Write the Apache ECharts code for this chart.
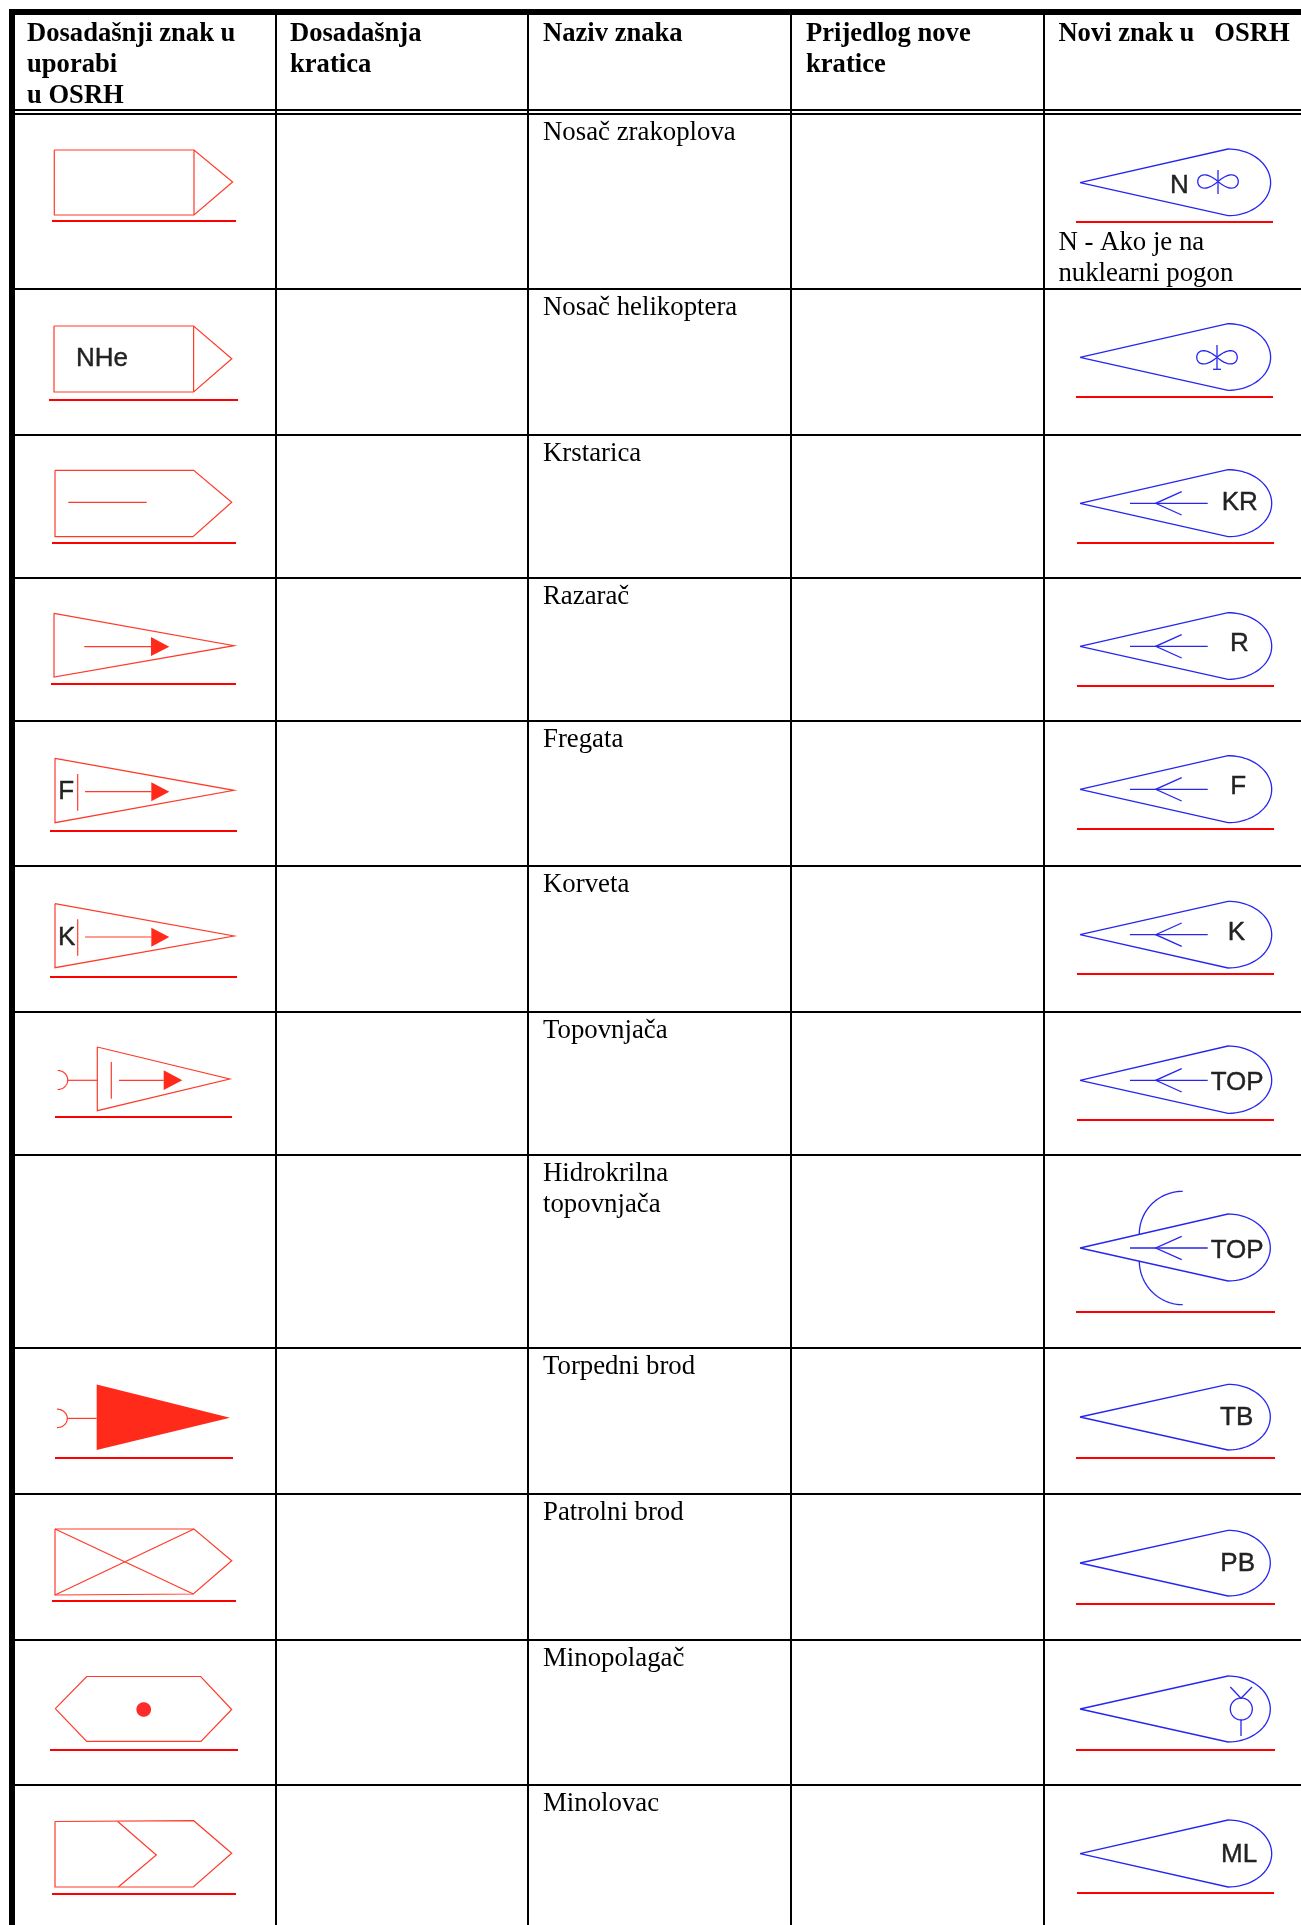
<!DOCTYPE html>
<html>
<head>
<meta charset="utf-8">
<title>Znakovi OSRH</title>
<script src="https://cdn.jsdelivr.net/npm/echarts@6/dist/echarts.min.js"></script>
<style>
  html, body { margin: 0; padding: 0; background: #fff; }
  #chart { width: 1301px; height: 1925px; }
</style>
</head>
<body>
<div id="chart"></div>
<script>
// all geometry below is in axis units of one hidden x/y grid (0-1301, 0-1925)
const columnLines = [276, 528, 791, 1044];
const rowLines = [110, 114, 289, 435, 578, 721, 866, 1012, 1155, 1348, 1494, 1640, 1785];

const headerTexts = [
  ["Dosadašnji znak u", "uporabi", "u OSRH"],
  ["Dosadašnja", "kratica"],
  ["Naziv znaka"],
  ["Prijedlog nove", "kratice"],
  ["Novi znak u   OSRH"],
];
const headerX = [27, 290, 543, 806, 1058.4];
const headerBaselines = [41, 72, 102.6];

const signNames = [
  ["Nosač zrakoplova"],
  ["Nosač helikoptera"],
  ["Krstarica"],
  ["Razarač"],
  ["Fregata"],
  ["Korveta"],
  ["Topovnjača"],
  ["Hidrokrilna", "topovnjača"],
  ["Torpedni brod"],
  ["Patrolni brod"],
  ["Minopolagač"],
  ["Minolovac"],
];
const noteTexts = ["N - Ako je na", "nuklearni pogon"];
const noteBaselines = [249.5, 280.5];

// old (red) signs
const oldOutlines = [
  [[54.3, 150], [194, 150], [232.6, 182], [194, 215], [54.3, 215], [54.3, 150]],
  [[54, 326], [193.6, 326], [231.8, 358.7], [193.6, 392], [54, 392], [54, 326]],
  [[55, 470.3], [193.7, 470.3], [231.7, 502.3], [193, 536.7], [55, 536.7], [55, 470.3]],
  [[54, 613.3], [234, 645.7], [54, 677], [54, 613.3]],
  [[55, 758.3], [234, 790.3], [55, 822.7], [55, 758.3]],
  [[55, 903.7], [234, 936], [55, 967.7], [55, 903.7]],
  [[97.3, 1047], [229.7, 1079], [97.3, 1110.7], [97.3, 1047]],
  [[55, 1529], [194, 1529], [231.7, 1560.7], [193.3, 1594], [55, 1595], [55, 1529]],
  [[55.3, 1708.7], [86.7, 1676.5], [200.7, 1676.5], [231.7, 1709.5], [201, 1741.4], [86.7, 1741.4], [55.3, 1708.7]],
  [[55, 1821.5], [193.7, 1820.7], [231.7, 1853.3], [193.3, 1887], [55, 1887], [55, 1821.5]],
];
const oldInnerLines = [
  [[194, 150], [194, 215]],
  [[193.6, 326], [193.6, 392]],
  [[68.3, 502.3], [146.7, 502.3]],
  [[84.3, 646.7], [151, 646.7]],
  [[77.7, 774], [77.7, 810.7]],
  [[85, 791.7], [151.3, 791.7]],
  [[77.7, 919.3], [77.7, 955.7]],
  [[85, 937], [151.3, 937]],
  [[67.7, 1080.3], [97.3, 1080.3]],
  [[111.3, 1062], [111.3, 1098.7]],
  [[119, 1080.3], [163.7, 1080.3]],
  [[67.3, 1418.4], [96.7, 1418.4]],
  [[55, 1529], [193.3, 1594]],
  [[55, 1595], [194, 1529]],
  [[117.7, 1821.5], [156.3, 1855], [118.3, 1887]],
];
const oldFilled = [
  [[151, 637], [169.3, 646.7], [151, 656]],
  [[151.3, 782.3], [169.3, 791.7], [151.3, 801.3]],
  [[151.3, 927.7], [169.3, 937], [151.3, 946.7]],
  [[163.7, 1070.3], [182.3, 1080.3], [163.7, 1090]],
  [[96.7, 1384.6], [230, 1417.7], [96.7, 1450]],
];
// [cx, cy, rx, ry, startAngle, endAngle] in degrees
const oldArcs = [
  [57.7, 1080, 10, 9.5, -90, 90],
  [57, 1418.4, 10.3, 9.2, -90, 90],
];
const oldDots = [[143.7, 1709.5, 7.3, 7.3, 0, 360]];
const oldUnderlines = [
  [[52, 221], [236, 221]],
  [[49, 400], [238, 400]],
  [[52, 543], [236, 543]],
  [[51, 684], [236, 684]],
  [[50, 831], [237, 831]],
  [[50, 977], [237, 977]],
  [[55, 1117], [232, 1117]],
  [[55, 1458], [233, 1458]],
  [[52, 1601], [236, 1601]],
  [[50, 1750], [238, 1750]],
  [[52, 1894], [236, 1894]],
];
const oldCodes = ["NHe", "F", "K"];
const oldCodeX = [75.9, 58.3, 58];
const oldCodeBaselines = [366.7, 799.3, 945];

// new (blue) teardrop signs, one per row
const tearTipY = [182.7, 357.3, 503.3, 646.3, 789.3, 934.7, 1080.3, 1248, 1417, 1563, 1709, 1853.7];
const tearTopY = [149, 323.7, 469.7, 612.7, 755.7, 901.3, 1046, 1214, 1384.3, 1530.3, 1676, 1820];
const tearBottomY = [215.7, 390.3, 536.7, 679.3, 822.7, 968, 1113.3, 1281, 1450, 1596, 1742, 1887];
const tearRightX = [1270.6, 1270.6, 1271.7, 1271.7, 1271.7, 1271.7, 1271.7, 1270.3, 1270.3, 1270.3, 1270.3, 1271.7];
const tearTipX = 1080;
const tearShoulderX = 1228;
const newUnderlineY = [222, 397, 543, 686, 829, 974, 1120, 1312, 1458, 1604, 1750, 1893];
const newUnderlineX1 = [1076, 1076, 1077, 1077, 1077, 1077, 1077, 1076, 1076, 1076, 1076, 1077];
const newUnderlineX2 = [1273, 1273, 1274, 1274, 1274, 1274, 1274, 1275, 1275, 1275, 1275, 1274];
const featherRows = [2, 3, 4, 5, 6, 7];
const newCodes = ["N", "KR", "R", "F", "K", "TOP", "TOP", "TB", "PB", "ML"];
const newCodeX = [1170, 1221.7, 1230, 1230.3, 1227.7, 1210.7, 1210.7, 1220, 1220.3, 1221];
const newCodeBaselines = [193, 510, 651.7, 794, 940.7, 1090.3, 1258.3, 1425.7, 1571.7, 1862];
const propellers = [[1218, 181.5, 170, 194], [1217, 357.3, 345, 369.3]];
const helicopterBar = [[1213, 369.3], [1221, 369.3]];
const foilArcs = [
  [1182.7, 1234, 43.4, 42.7, 180, 270],
  [1182.7, 1260.7, 43.4, 44, 180, 90],
];
const mineCircle = [1241.3, 1709, 11, 11, 0, 360];
const mineLines = [
  [[1241, 1720], [1241, 1736]],
  [[1230.3, 1687], [1241, 1698.3], [1252, 1687]],
];

function arcPoints(arc) {
  const pts = [];
  for (let i = 0; i <= 48; i++) {
    const a = ((arc[4] + ((arc[5] - arc[4]) * i) / 48) * Math.PI) / 180;
    pts.push([arc[0] + arc[2] * Math.cos(a), arc[1] + arc[3] * Math.sin(a)]);
  }
  return pts;
}

function teardrop(i) {
  const midY = tearTipY[i];
  const pts = [[tearTipX, midY]];
  for (let k = 0; k <= 48; k++) {
    const a = -Math.PI / 2 + (Math.PI * k) / 48;
    const ry = a < 0 ? midY - tearTopY[i] : tearBottomY[i] - midY;
    pts.push([tearShoulderX + (tearRightX[i] - tearShoulderX) * Math.cos(a), midY + ry * Math.sin(a)]);
  }
  pts.push([tearTipX, midY]);
  return pts;
}

function feather(midY) {
  return [
    [[1130, midY], [1207.7, midY]],
    [[1181.7, midY - 11.7], [1155.7, midY], [1181.7, midY + 11.7]],
  ];
}

// one loop of the propeller blade, dir is -1 (left) or 1 (right)
function bladeLoop(cx, cy, dir) {
  const pts = [];
  for (let k = 0; k <= 32; k++) {
    const t = k / 32;
    const b = 3 * (1 - t) * t;
    pts.push([cx + dir * b * 27, cy + b * 23 * (t - (1 - t))]);
  }
  return pts;
}

const bluePaths = [];
tearTipY.forEach((_, i) => bluePaths.push(teardrop(i)));
featherRows.forEach((r) => bluePaths.push(...feather(tearTipY[r])));
propellers.forEach((p) => {
  bluePaths.push(bladeLoop(p[0], p[1], -1), bladeLoop(p[0], p[1], 1));
  bluePaths.push([[p[0], p[2]], [p[0], p[3]]]);
});
bluePaths.push(helicopterBar, ...foilArcs.map(arcPoints), arcPoints(mineCircle), ...mineLines);

const newUnderlines = newUnderlineY.map((y, i) => [[newUnderlineX1[i], y], [newUnderlineX2[i], y]]);

const tableVerticals = [[[12, 12], [12, 1925]]].concat(columnLines.map((x) => [[x, 12], [x, 1925]]));
const tableHorizontals = rowLines.map((y) => [[12, y], [1301, y]]);

// text items: [string, x, baseline, bold]
const headerItems = [];
headerTexts.forEach((lines, c) => lines.forEach((t, l) => headerItems.push([t, headerX[c], headerBaselines[l], true])));
const bodyItems = [];
signNames.forEach((lines, r) =>
  lines.forEach((t, l) => bodyItems.push([t, headerX[2], rowLines[r + 1] + 25.7 + l * 31, false]))
);
noteTexts.forEach((t, l) => bodyItems.push([t, headerX[4], noteBaselines[l], false]));

const codeItems = [];
oldCodes.forEach((t, i) => codeItems.push([t, oldCodeX[i], oldCodeBaselines[i]]));
newCodes.forEach((t, i) => codeItems.push([t, newCodeX[i], newCodeBaselines[i]]));

function pathSeries(list, color, width, filled) {
  return {
    type: "custom",
    coordinateSystem: "cartesian2d",
    clip: false,
    silent: true,
    data: list.map((_, i) => [i]),
    renderItem(params, api) {
      const points = list[params.dataIndex].map((p) => api.coord(p));
      return {
        type: filled ? "polygon" : "polyline",
        shape: { points },
        style: { stroke: filled ? null : color, fill: filled ? color : null, lineWidth: width },
      };
    },
  };
}

// middleShift: distance from the baseline up to the font's middle line
function textSeries(list, family, size, color, middleShift, strokeWidth) {
  return {
    type: "custom",
    coordinateSystem: "cartesian2d",
    clip: false,
    silent: true,
    data: list.map((_, i) => [i]),
    renderItem(params, api) {
      const item = list[params.dataIndex];
      const p = api.coord([item[1], item[2]]);
      return {
        type: "text",
        style: {
          text: item[0],
          x: p[0],
          y: p[1] - middleShift,
          font: (item[3] ? "bold " : "") + size + "px " + family,
          fill: color,
          stroke: strokeWidth ? color : null,
          lineWidth: strokeWidth || 0,
          align: "left",
          verticalAlign: "middle",
        },
      };
    },
  };
}

const myChart = echarts.init(document.getElementById("chart"), null, { renderer: "canvas" });
myChart.setOption({
  animation: false,
  backgroundColor: "#fff",
  grid: { left: 0, right: 0, top: 0, bottom: 0 },
  xAxis: { type: "value", min: 0, max: 1301, show: false },
  yAxis: { type: "value", min: 0, max: 1925, inverse: true, show: false },
  series: [
    pathSeries(tableHorizontals, "#000", 2),
    pathSeries(tableVerticals.slice(1), "#000", 2),
    pathSeries([tableVerticals[0]], "#000", 6),
    pathSeries([[[9, 12], [1301, 12]]], "#000", 6),
    pathSeries(oldOutlines, "#ff3a2a", 1.2),
    pathSeries(oldInnerLines, "#ff3a2a", 1.2),
    pathSeries(oldArcs.map(arcPoints), "#ff3a2a", 1.2),
    pathSeries(oldFilled, "#ff2a1a", 1, true),
    pathSeries(oldDots.map(arcPoints), "#ff2a2a", 1, true),
    pathSeries(oldUnderlines, "#ff0000", 2),
    pathSeries(newUnderlines, "#ff0000", 2),
    pathSeries(bluePaths, "#2626f0", 1.3),
    textSeries(headerItems, '"Liberation Serif", serif', 26.6, "#000", 6.8),
    textSeries(bodyItems, '"Liberation Serif", serif', 26.8, "#000", 6.8),
    textSeries(codeItems, '"Liberation Sans", Arial, sans-serif', 26, "#222", 7.6, 0.4),
  ],
});
</script>
</body>
</html>
